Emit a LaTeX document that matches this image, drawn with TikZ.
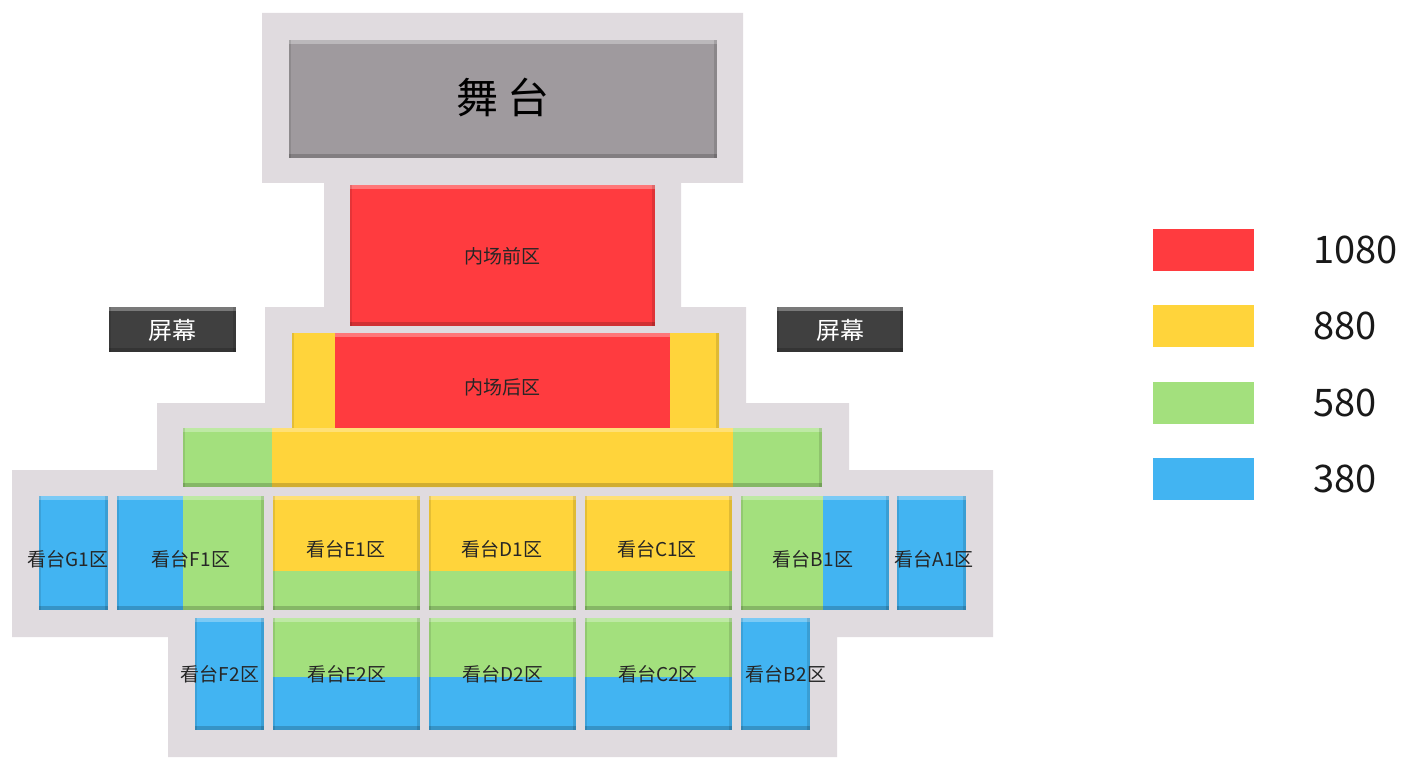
\documentclass[tikz,border=0pt]{standalone}
\usepackage{fontspec}
\setmainfont{Noto Sans CJK SC}
\definecolor{hall}{HTML}{E0DBDF}
\definecolor{stagegray}{HTML}{9F9A9E}
\definecolor{screengray}{HTML}{404040}
\definecolor{p1080}{HTML}{FF3B3F}
\definecolor{p880}{HTML}{FFD43B}
\definecolor{p580}{HTML}{A3E07D}
\definecolor{p380}{HTML}{42B4F2}
% raised edge of a seat block: x1 y1 x2 y2
\newcommand{\bevel}[4]{%
  \fill[white,opacity=.3] (#1,#2) rectangle (#3,#2+4);
  \fill[black,opacity=.18] (#1,#4-4) rectangle (#3,#4);
  \fill[black,opacity=.1] (#1,#2) rectangle (#1+2,#4);
  \fill[black,opacity=.12] (#3-3,#2) rectangle (#3,#4);}
\tikzset{
  zone/.style={inner sep=0pt, text=black!85, font=\fontsize{19}{19}\selectfont},
  price/.style={inner sep=0pt, anchor=west, text=black!90, font=\fontsize{38}{38}\selectfont}
}
\begin{document}
\begin{tikzpicture}[x=1pt,y=-1pt]
\useasboundingbox (0,0) rectangle (1405,767);
% hall outline
\fill[hall] (262,13) -- (743,13) -- (743,183) -- (681,183) -- (681,307) -- (746,307)
  -- (746,403) -- (849,403) -- (849,470) -- (993,470) -- (993,637) -- (837,637)
  -- (837,757) -- (168,757) -- (168,637) -- (12,637) -- (12,470) -- (157,470)
  -- (157,403) -- (265,403) -- (265,307) -- (324,307) -- (324,183) -- (262,183) -- cycle;

% stage and screens
\fill[stagegray] (289,40) rectangle (717,158); \bevel{289}{40}{717}{158}
\node (stage) at (503,97) {\fontsize{42}{42}\selectfont 舞 台};
\fill[screengray] (109,307) rectangle (236,352); \bevel{109}{307}{236}{352}
\fill[screengray] (777,307) rectangle (903,352); \bevel{777}{307}{903}{352}
\node[inner sep=0pt, text=white, font=\fontsize{24}{24}\selectfont] (screen-l) at (172,330) {屏幕};
\node[inner sep=0pt, text=white, font=\fontsize{24}{24}\selectfont] (screen-r) at (840,330) {屏幕};

% floor
\fill[p1080] (350,185) rectangle (655,326); \bevel{350}{185}{655}{326}
\node[zone] (front) at (502,256) {内场前区};
\fill[p880] (292,333) -- (719,333) -- (719,428) -- (733,428) -- (733,487) -- (272,487)
  -- (272,428) -- (292,428) -- cycle;
\fill[black,opacity=.1] (292,333) rectangle (294,428);
\fill[black,opacity=.12] (716,333) rectangle (719,428);
\fill[p580] (183,428) rectangle (272,487);
\fill[p580] (733,428) rectangle (822,487);
\bevel{183}{428}{822}{487}
\fill[p1080] (335,333) rectangle (670,428);
\fill[white,opacity=.3] (335,333) rectangle (670,337);
\node[zone] (back) at (502,387) {内场后区};

% stands, first row
\fill[p380] (39,496) rectangle (108,610); \bevel{39}{496}{108}{610}
\fill[p380] (117,496) rectangle (183,610);
\fill[p580] (183,496) rectangle (264,610); \bevel{117}{496}{264}{610}
\foreach \x/\n in {273/E,429/D,585/C}{
  \fill[p880] (\x,496) rectangle (\x+147,571);
  \fill[p580] (\x,571) rectangle (\x+147,610);
  \bevel{\x}{496}{\x+147}{610}
  \fill[p580] (\x,618) rectangle (\x+147,677);
  \fill[p380] (\x,677) rectangle (\x+147,730);
  \bevel{\x}{618}{\x+147}{730}
}
\fill[p580] (741,496) rectangle (823,610);
\fill[p380] (823,496) rectangle (889,610); \bevel{741}{496}{889}{610}
\fill[p380] (897,496) rectangle (966,610); \bevel{897}{496}{966}{610}
% second row
\fill[p380] (195,618) rectangle (264,730); \bevel{195}{618}{264}{730}
\fill[p380] (741,618) rectangle (810,730); \bevel{741}{618}{810}{730}

\node[zone] (G1) at (68,559) {看台G1区};
\node[zone] (F1) at (191,559) {看台F1区};
\node[zone] (E1) at (346,549) {看台E1区};
\node[zone] (D1) at (502,549) {看台D1区};
\node[zone] (C1) at (657,549) {看台C1区};
\node[zone] (B1) at (813,559) {看台B1区};
\node[zone] (A1) at (934,559) {看台A1区};
\node[zone] (F2) at (220,674) {看台F2区};
\node[zone] (E2) at (347,674) {看台E2区};
\node[zone] (D2) at (503,674) {看台D2区};
\node[zone] (C2) at (658,674) {看台C2区};
\node[zone] (B2) at (786,674) {看台B2区};

% legend
\foreach \y/\c/\p in {229/p1080/1080, 305/p880/880, 382/p580/580, 458/p380/380}{
  \fill[\c] (1153,\y) rectangle (1254,\y+42);
  \node[price] (lg-\p) at (1313,\y+21) {\p};
}
\end{tikzpicture}
\end{document}
